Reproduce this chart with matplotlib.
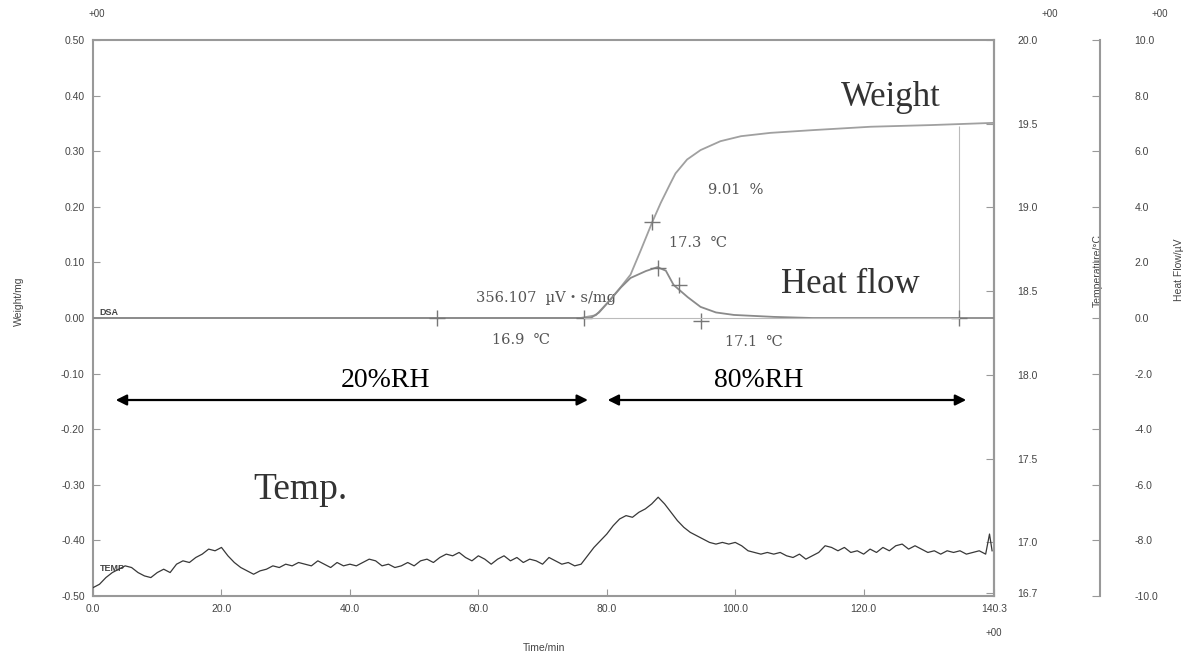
import numpy as np
import matplotlib
matplotlib.use('Agg')
import matplotlib.pyplot as plt

plt.rcParams['font.family'] = ['Liberation Sans', 'Noto Sans CJK JP', 'DejaVu Sans']

# ---- data ----
# weight (mg) vs time (min)
w_time = [0.0, 20.0, 40.0, 60.0, 75.9, 78.3, 80.1, 82.2, 83.7, 85.3, 87.1, 88.4, 89.9,
          90.7, 92.5, 94.6, 97.7, 100.9, 105.5, 112.2, 121.1, 130.5, 140.3]
w_val = [0.0, 0.0, 0.0, 0.0, 0.0, 0.005, 0.027, 0.056, 0.078, 0.122, 0.173, 0.207, 0.242,
         0.260, 0.285, 0.302, 0.318, 0.327, 0.333, 0.338, 0.344, 0.347, 0.351]

# heat flow (uV) vs time (min)
h_time = [0.0, 20.0, 40.0, 60.0, 77.5, 78.8, 80.1, 82.2, 83.7, 86.1, 87.9, 89.2, 90.4,
          92.6, 94.6, 97.0, 99.8, 106.0, 112.0, 125.0, 140.3]
h_val = [0.0, 0.0, 0.0, 0.0, 0.0, 0.2, 0.54, 1.1, 1.44, 1.69, 1.83, 1.7, 1.19,
         0.75, 0.4, 0.2, 0.11, 0.04, 0.0, 0.0, 0.0]

# temperature (degC) vs time (min)
t_time = [0, 1, 2, 3, 4, 5, 6, 7, 8, 9, 10, 11, 12, 13, 14, 15, 16, 17, 18, 19,
          20, 21, 22, 23, 24, 25, 26, 27, 28, 29, 30, 31, 32, 33, 34, 35, 36, 37, 38, 39,
          40, 41, 42, 43, 44, 45, 46, 47, 48, 49, 50, 51, 52, 53, 54, 55, 56, 57, 58, 59,
          60, 61, 62, 63, 64, 65, 66, 67, 68, 69, 70, 71, 72, 73, 74, 75, 76, 77, 78, 79,
          80, 81, 82, 83, 84, 85, 86, 87, 88, 89, 90, 91, 92, 93, 94, 95, 96, 97, 98, 99,
          100, 101, 102, 103, 104, 105, 106, 107, 108, 109, 110, 111, 112, 113, 114, 115,
          116, 117, 118, 119, 120, 121, 122, 123, 124, 125, 126, 127, 128, 129, 130, 131,
          132, 133, 134, 135, 136, 137, 138, 139, 139.6, 140.0]
t_val = [16.73, 16.75, 16.79, 16.82, 16.84, 16.86, 16.85, 16.82, 16.80, 16.79,
         16.82, 16.84, 16.82, 16.87, 16.89, 16.88, 16.91, 16.93, 16.96, 16.95,
         16.97, 16.92, 16.88, 16.85, 16.83, 16.81, 16.83, 16.84, 16.86, 16.85,
         16.87, 16.86, 16.88, 16.87, 16.86, 16.89, 16.87, 16.85, 16.88, 16.86,
         16.87, 16.86, 16.88, 16.90, 16.89, 16.86, 16.87, 16.85, 16.86, 16.88,
         16.86, 16.89, 16.90, 16.88, 16.91, 16.93, 16.92, 16.94, 16.91, 16.89,
         16.92, 16.90, 16.87, 16.90, 16.92, 16.89, 16.91, 16.88, 16.90, 16.89,
         16.87, 16.91, 16.89, 16.87, 16.88, 16.86, 16.87, 16.92, 16.97, 17.01,
         17.05, 17.10, 17.14, 17.16, 17.15, 17.18, 17.20, 17.23, 17.27, 17.23,
         17.18, 17.13, 17.09, 17.06, 17.04, 17.02, 17.00, 16.99, 17.00, 16.99,
         17.00, 16.98, 16.95, 16.94, 16.93, 16.94, 16.93, 16.94, 16.92, 16.91,
         16.93, 16.90, 16.92, 16.94, 16.98, 16.97, 16.95, 16.97, 16.94, 16.95,
         16.93, 16.96, 16.94, 16.97, 16.95, 16.98, 16.99, 16.96, 16.98, 16.96,
         16.94, 16.95, 16.93, 16.95, 16.94, 16.95, 16.93, 16.94, 16.95, 16.93,
         17.05, 16.95]

# "+" markers used by the instrument software
w_mark = ([87.1], [0.173])
h_mark = ([53.6, 76.4, 87.9, 91.2, 94.6, 134.8], [0.0, 0.0, 1.8, 1.19, -0.1, 0.0])

x_ticks = [0.0, 20.0, 40.0, 60.0, 80.0, 100.0, 120.0, 140.3]
w_ticks = [0.5, 0.4, 0.3, 0.2, 0.1, 0.0, -0.1, -0.2, -0.3, -0.4, -0.5]
t_ticks = [20.0, 19.5, 19.0, 18.5, 18.0, 17.5, 17.0, 16.7]
h_ticks = [10.0, 8.0, 6.0, 4.0, 2.0, 0.0, -2.0, -4.0, -6.0, -8.0, -10.0]

frame = '#999999'
tick_txt = '#444444'
serif = ['Liberation Serif', 'Noto Sans CJK JP', 'DejaVu Sans']
serif2 = ['DejaVu Serif', 'Noto Sans CJK JP', 'DejaVu Sans']

fig = plt.figure(figsize=(11.9, 6.59), dpi=100)
ax = fig.add_axes([0.0782, 0.0956, 0.7571, 0.8437])
ax_t = ax.twinx()
ax_h = ax.twinx()

# weight axis
ax.set_xlim(0, 140.3)
ax.set_ylim(-0.5, 0.5)
ax.set_xticks(x_ticks)
ax.set_xticklabels(['%.1f' % v for v in x_ticks])
ax.set_yticks(w_ticks)
ax.set_yticklabels(['%.2f' % v for v in w_ticks])
ax.tick_params(axis='both', direction='in', length=5, color=frame, labelsize=7.5,
               labelcolor=tick_txt, pad=6)
for s in ax.spines.values():
    s.set_color(frame)
    s.set_linewidth(1.5)
ax.set_ylabel('Weight/mg', fontsize=7.5, color=tick_txt)
ax.yaxis.set_label_coords(-0.077, 0.53)
ax.set_xlabel('Time/min', fontsize=7.5, color=tick_txt)
ax.xaxis.set_label_coords(0.5, -0.085)

# temperature axis
ax_t.set_ylim(16.68, 20.0)
ax_t.set_yticks(t_ticks)
ax_t.set_yticklabels(['%.1f' % v for v in t_ticks])
ax_t.tick_params(axis='y', direction='in', length=6, color=frame, labelsize=7.5,
                 labelcolor=tick_txt, pad=17)
for s in ax_t.spines.values():
    s.set_visible(False)
ax_t.spines['right'].set_visible(True)
ax_t.spines['right'].set_color(frame)
ax_t.spines['right'].set_linewidth(1.5)
ax_t.set_ylabel('Temperature/\u00b0C', fontsize=7.5, color=tick_txt)
ax_t.yaxis.set_label_coords(1.11, 0.586)

# heat flow axis
ax_h.set_ylim(-10.0, 10.0)
ax_h.set_yticks(h_ticks)
ax_h.set_yticklabels(['%.1f' % v for v in h_ticks])
ax_h.spines['right'].set_position(('axes', 1.1176))
for s in ['left', 'top', 'bottom']:
    ax_h.spines[s].set_visible(False)
ax_h.spines['right'].set_color(frame)
ax_h.spines['right'].set_linewidth(1.5)
ax_h.tick_params(axis='y', direction='in', length=6, color=frame, labelsize=7.5,
                 labelcolor=tick_txt, pad=25)
ax_h.set_ylabel('Heat Flow/\u00b5V', fontsize=7.5, color=tick_txt)
ax_h.yaxis.set_label_coords(1.2, 0.586)

# curves
ax.plot(w_time, w_val, color='#a0a0a0', lw=1.3)
ax_h.plot(h_time, h_val, color='#8a8a8a', lw=1.3)
ax_t.plot(t_time, t_val, color='#383838', lw=0.9)

ax.plot(*w_mark, marker='+', ms=11, color='#777777', ls='none')
ax_h.plot(*h_mark, marker='+', ms=11, color='#777777', ls='none')
ax_h.plot([76.4, 134.8], [0.0, 0.0], color='#bbbbbb', lw=0.8)
ax.vlines(134.8, 0.0, 0.345, color='#bbbbbb', lw=0.8)

# humidity arrows
ax.annotate('', xy=(3.1, -0.1475), xytext=(77.5, -0.1475),
            arrowprops=dict(arrowstyle='<|-|>', color='black', lw=1.6, mutation_scale=16))
ax.annotate('', xy=(79.7, -0.1475), xytext=(136.4, -0.1475),
            arrowprops=dict(arrowstyle='<|-|>', color='black', lw=1.6, mutation_scale=16))
ax.text(45.5, -0.113, '20%RH', fontsize=20, family=serif, ha='center', va='center')
ax.text(103.7, -0.113, '80%RH', fontsize=20, family=serif, ha='center', va='center')

# curve names
ax.text(124.2, 0.397, 'Weight', fontsize=25, family=serif, ha='center', va='center', color='#333333')
ax.text(118.0, 0.061, 'Heat flow', fontsize=25, family=serif, ha='center', va='center', color='#333333')
ax.text(32.3, -0.309, 'Temp.', fontsize=27, family=serif, ha='center', va='center', color='#333333')

# instrument annotations
ann = dict(fontsize=10.5, family=serif2, ha='center', va='center', color='#555555')
ax.text(100.1, 0.230, '9.01  %', **ann)
ax.text(94.2, 0.135, '17.3  \u2103', **ann)
ax.text(70.5, 0.036, '356.107  \u00b5V\u30fbs/mg', **ann)
ax.text(66.6, -0.040, '16.9  \u2103', **ann)
ax.text(102.9, -0.043, '17.1  \u2103', **ann)
ax.text(1.0, 0.009, 'DSA', fontsize=6.5, fontweight='bold', color='#444444', va='center')
ax.text(1.0, -0.45, 'TEMP', fontsize=6.5, fontweight='bold', color='#444444', va='center')

# exponent markers
for x, y in [(97, 14), (1050, 14), (1160, 14), (994, 633)]:
    fig.text(x / 1190, 1 - y / 659, '+00', fontsize=7, color=tick_txt, ha='center', va='center')

fig.savefig('out.png', dpi=100)
